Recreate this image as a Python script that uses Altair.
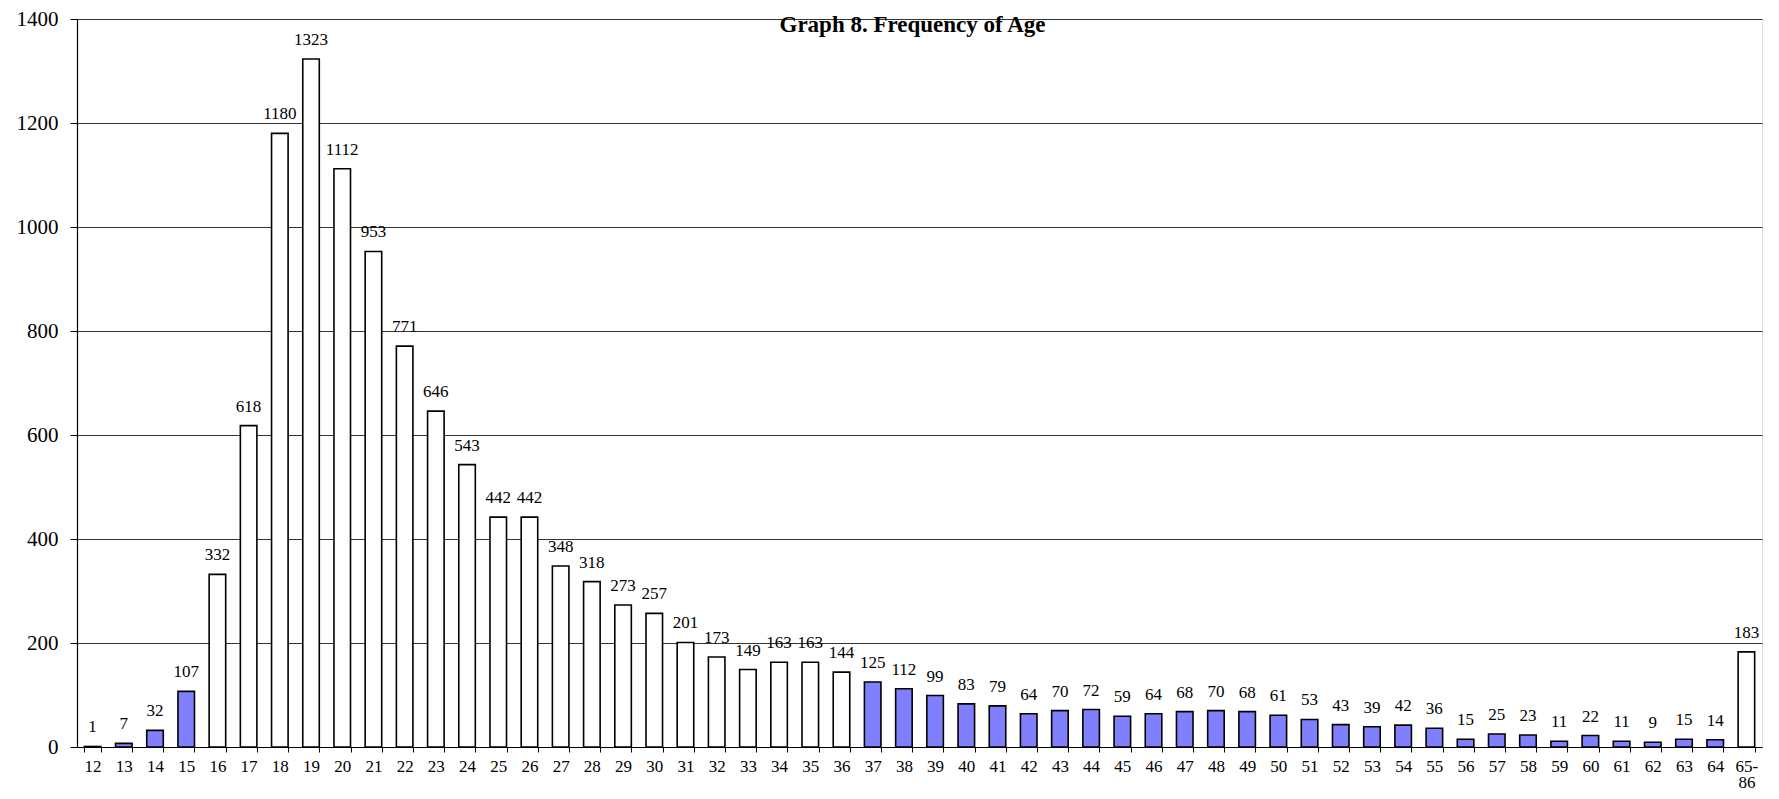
import altair as alt
import pandas as pd

ages = [str(a) for a in range(12, 65)] + ["65-86"]
counts = [1, 7, 32, 107, 332, 618, 1180, 1323, 1112, 953, 771, 646, 543, 442, 442,
          348, 318, 273, 257, 201, 173, 149, 163, 163, 144, 125, 112, 99, 83, 79,
          64, 70, 72, 59, 64, 68, 70, 68, 61, 53, 43, 39, 42, 36, 15, 25, 23, 11,
          22, 11, 9, 15, 14, 183]
title_text = ["Graph 8. Frequency of Age"]

df = pd.DataFrame({"age": ages, "count": counts, "order": list(range(len(ages)))})

FONT = "Liberation Serif"
W, H = 1685, 728
highlight = "(datum.order <= 3) || (datum.order >= 25 && datum.order <= 52)"

x = alt.X("age:N", sort=ages, title=None,
          scale=alt.Scale(paddingInner=0.47, paddingOuter=0.235),
          axis=alt.Axis(labelAngle=0, labelFont=FONT, labelFontSize=17, labelColor="black",
                        labelPadding=6, tickBand="extent", tickSize=5, tickColor="black",
                        domainColor="black", domainWidth=1.2, grid=False,
                        labelExpr="datum.value == '65-86' ? ['65-', '86'] : datum.value",
                        labelLineHeight=16))
y = alt.Y("count:Q", title=None,
          scale=alt.Scale(domain=[0, 1400], nice=False),
          axis=alt.Axis(values=list(range(0, 1401, 200)), format="d", labelFont=FONT,
                        labelFontSize=21, labelColor="black", labelPadding=12, tickSize=7,
                        tickColor="black", domainColor="black", domainWidth=1.2, grid=True,
                        gridColor="#333333", gridWidth=1))

bars = alt.Chart(df).mark_bar(stroke="black", strokeWidth=1.6).encode(
    x=x, y=y,
    fill=alt.condition(highlight, alt.value("#8080FF"), alt.value("white")),
)
labels = alt.Chart(df).mark_text(font=FONT, fontSize=17, dy=-14, baseline="alphabetic",
                                 color="black").encode(
    x=alt.X("age:N", sort=ages), y="count:Q", text="count:Q")

title = alt.Chart(pd.DataFrame({"t": title_text})).mark_text(
    font=FONT, fontSize=23, fontWeight="bold", baseline="alphabetic", align="center",
    color="black").encode(text="t:N", x=alt.value(W / 2 - 7), y=alt.value(13))

chart = alt.layer(bars, labels, title).properties(
    width=W, height=H,
    autosize=alt.AutoSizeParams(type="none"),
    padding={"left": 69, "top": 11, "right": 9, "bottom": 44},
).configure_view(stroke=None).configure(background="white")

chart.save("out.html", embed_options={"renderer": "svg", "actions": False})
